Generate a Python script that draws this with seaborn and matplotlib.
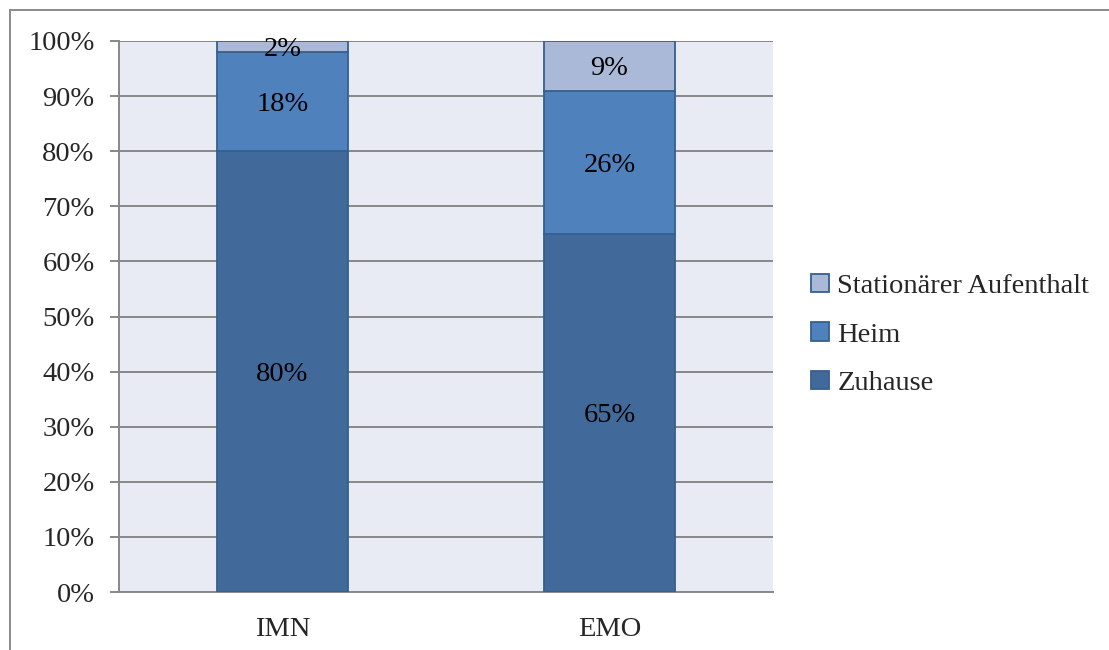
import matplotlib
matplotlib.use("Agg")
import matplotlib.pyplot as plt
from matplotlib.lines import Line2D
from matplotlib.patches import Patch
import numpy as np
import pandas as pd
import seaborn as sns

# Data: share of residence by group (percent)
groups = ["IMN", "EMO"]
series_names = ["Zuhause", "Heim", "Stationärer Aufenthalt"]
zuhause = [80, 65]
heim = [18, 26]
stationaer = [2, 9]
y_ticks = [0, 10, 20, 30, 40, 50, 60, 70, 80, 90, 100]

values = {"Zuhause": zuhause, "Heim": heim, "Stationärer Aufenthalt": stationaer}
colors = {"Zuhause": "#41699A", "Heim": "#4F81BD", "Stationärer Aufenthalt": "#AAB9D7"}
edge_color = "#35608F"
grid_color = "#888888"
FS = 20.5

df = pd.DataFrame(
    [(g, s, values[s][i]) for s in series_names for i, g in enumerate(groups)],
    columns=["group", "series", "value"],
)

sns.set_theme(style="white")
plt.rcParams["font.family"] = ["Liberation Serif", "DejaVu Serif"]

fig = plt.figure(figsize=(11.09, 6.5), dpi=100)
ax = fig.add_axes([119 / 1109, 58 / 650, (773 - 119) / 1109, (592 - 41) / 650])
ax.set_facecolor("#E8EBF4")

bottom = np.zeros(len(groups))
for s in series_names:
    sub = df[df["series"] == s].set_index("group").loc[groups].reset_index()
    sns.barplot(data=sub, x="group", y="value", order=groups, color=colors[s],
                width=0.4, bottom=bottom, edgecolor=edge_color, linewidth=1.3,
                ax=ax, zorder=3, saturation=1)
    for i, v in enumerate(sub["value"]):
        ax.text(i, bottom[i] + v / 2, f"{v}%", ha="center", va="center_baseline",
                fontsize=FS, color="black", zorder=5)
    bottom = bottom + sub["value"].to_numpy()

ax.set_xlim(-0.5, 1.5)
ax.set_ylim(0, 100)
ax.set_yticks(y_ticks)
ax.set_yticklabels([f"{t}%" for t in y_ticks], fontsize=FS)
ax.yaxis.grid(True, color=grid_color, linewidth=1.4, zorder=1)
ax.set_axisbelow(True)
ax.set_xlabel("")
ax.set_ylabel("")
ax.set_xticks([0, 1])
ax.set_xticklabels(groups, fontsize=FS)
ax.set_xticks([-0.5, 0.5, 1.5], minor=True)
ax.tick_params(axis="x", which="major", length=0, pad=18)
ax.tick_params(axis="x", which="minor", length=6.5, width=1.4, color=grid_color, direction="out")
ax.tick_params(axis="y", length=6.5, width=1.4, color=grid_color, direction="out", pad=11, left=True)

for side in ["top", "right"]:
    ax.spines[side].set_visible(False)
for side in ["left", "bottom"]:
    ax.spines[side].set_color(grid_color)
    ax.spines[side].set_linewidth(1.4)

# Outer chart frame (top and left edges)
fig.add_artist(Line2D([10 / 1109, 1.0], [1 - 10 / 650, 1 - 10 / 650], color="#8A8A8A",
                      linewidth=1.4, transform=fig.transFigure))
fig.add_artist(Line2D([10 / 1109, 10 / 1109], [0, 1 - 10 / 650], color="#8A8A8A",
                      linewidth=1.4, transform=fig.transFigure))

handles = [Patch(facecolor=colors[s], edgecolor=edge_color, linewidth=1.3) for s in series_names[::-1]]
fig.legend(handles, series_names[::-1], loc="center left",
           bbox_to_anchor=(811 / 1109, 1 - 335 / 650), frameon=False, fontsize=FS,
           handlelength=0.62, handleheight=0.62, handletextpad=0.3, labelspacing=0.82,
           borderaxespad=0, borderpad=0)

fig.savefig("out.png", dpi=100, facecolor="white")
